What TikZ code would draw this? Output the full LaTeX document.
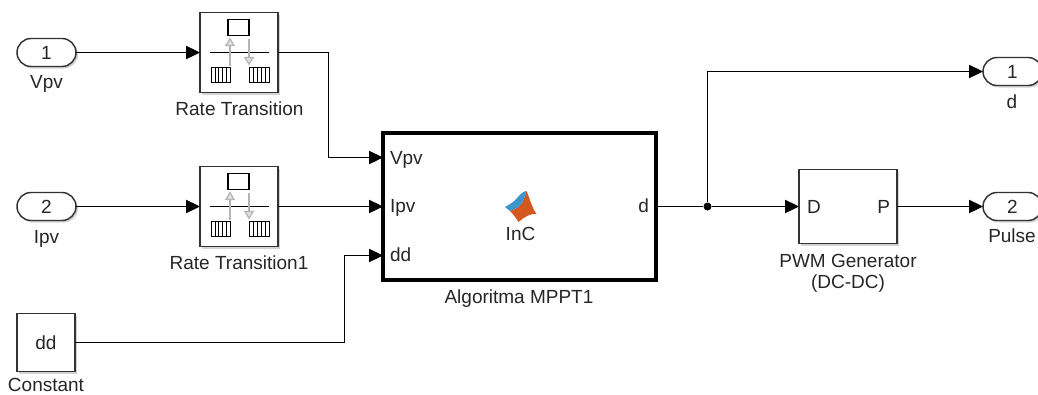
\documentclass[tikz,border=0pt]{standalone}
\usepackage{fontspec}
\setmainfont{Liberation Sans}
\usetikzlibrary{arrows.meta}
\usetikzlibrary{shapes.misc}
\usetikzlibrary{shadows}
\definecolor{tekst}{HTML}{262626}
\definecolor{ikona}{HTML}{B4B4B4}
\definecolor{logoa}{HTML}{D4571F}
\definecolor{logob}{HTML}{3C97CC}
\tikzset{%
    senca/.style={drop shadow={shadow xshift=1.5pt,shadow yshift=-1.5pt,opacity=0.35}},
    block/.style={inner sep=0pt,outer sep=0pt,shape=rectangle,draw=black!80,line width=1.1pt,fill=white,senca},
    port/.style={inner sep=0pt,outer sep=0pt,shape=rounded rectangle,draw=black!80,line width=1.1pt,fill=white,minimum width=44.25pt,minimum height=21pt,text=tekst,font=\fontsize{14.25}{17}\selectfont,senca},
    label/.style={inner sep=0pt,outer sep=0pt,anchor=base,text=tekst,font=\fontsize{14.25}{17}\selectfont},
    signal/.style={-{Triangle[length=10.5pt,width=10pt]},black,line width=0.8pt},
    ratetrans/.pic={
        \draw[line width=0.8pt] (-11,-33) rectangle (10,-17);
        \draw[line width=0.8pt] (-29,0) -- (30,0);
        \draw[ikona,line width=0.9pt,-{Triangle[open,fill=ikona!40,length=6.5pt,width=7.5pt]}] (-9,13) -- (-9,-15);
        \draw[ikona,line width=0.9pt,-{Triangle[open,fill=ikona!40,length=6.5pt,width=7.5pt]}] (10,-14) -- (10,13);
        \draw[line width=0.7pt] (-28,15) rectangle (-9,30);
        \draw[line width=0.7pt] (10,15) rectangle (30,30);
        \foreach \i in {-24,-20.2,-16.4,-12.6,14,18,22,26}
            \draw[line width=0.5pt] (\i,15) -- (\i,30);
    },
}

\begin{document}
\begin{tikzpicture}[x=0.75pt,y=-0.75pt]
    \useasboundingbox (0,0) rectangle (1038,394);

    %vhodi
    \node[port] (in1) at (46.5,52.5) {1};
    \node[label] (in1lab) at (46.5,88) {Vpv};
    \node[port] (in2) at (46.5,206.5) {2};
    \node[label] (in2lab) at (46.5,243) {Ipv};
    \node[block,minimum width=43.5pt,minimum height=43.5pt,text=tekst,font=\fontsize{14.25}{17}\selectfont] (const) at (46,342.5) {dd};
    \node[label] (constlab) at (46,391.5) {Constant};

    %rate transition
    \node[block,minimum width=58.5pt,minimum height=60pt] (rt) at (239,52.5) {};
    \pic at (rt) {ratetrans};
    \node[label] (rtlab) at (239.5,115) {Rate Transition};
    \node[block,minimum width=58.5pt,minimum height=60pt] (rtb) at (239,206.5) {};
    \pic at (rtb) {ratetrans};
    \node[label] (rtblab) at (239,269) {Rate Transition1};

    %algoritma
    \node[block,draw=black,line width=2.5pt,minimum width=204.75pt,minimum height=110.25pt] (mppt) at (519.5,206.5) {};
    \node[label] (mpptlab) at (519,303) {Algoritma MPPT1};
    \node[label,anchor=base west] (pvpv) at (390,164) {Vpv};
    \node[label,anchor=base west] (pipv) at (390,212) {Ipv};
    \node[label,anchor=base west] (pdd) at (390,261) {dd};
    \node[label,anchor=base east] (pd) at (649,212) {d};
    \node[label] (inc) at (520.5,240) {InC};
    \fill[logoa] (526.5,191) .. controls (530,199) and (532,208) .. (536.5,214) .. controls (531,213) and (524,217) .. (518.5,222) .. controls (516,218) and (513,214) .. (510,211) .. controls (516,209) and (520,206) .. (522,203) .. controls (524,199) and (525,195) .. cycle;
    \fill[logob] (505,207) .. controls (510,204) and (514,202) .. (517,198) .. controls (520,195) and (523,191) .. (526.5,191) .. controls (525,195) and (524,199) .. (522,203) .. controls (520,206) and (516,209) .. (510,211) -- cycle;

    %pwm
    \node[block,minimum width=73.5pt,minimum height=55.5pt] (pwm) at (848,206.5) {};
    \node[label,anchor=base west] (pwmd) at (807,213) {D};
    \node[label,anchor=base east] (pwmp) at (890,213) {P};
    \node[label] (pwmlab) at (848,267) {PWM Generator};
    \node[label] (pwmlabb) at (848,288) {(DC-DC)};

    %izhodi
    \node[port] (out1) at (1012.5,71.5) {1};
    \node[label] (out1lab) at (1012,108) {d};
    \node[port] (out2) at (1012.5,206.5) {2};
    \node[label] (out2lab) at (1012,242) {Pulse};

    %vozlisca
    \node[circle,fill=black,inner sep=0pt,minimum size=6pt] (dot) at (707.5,206.5) {};
    \coordinate (vpv) at (383,157.5);
    \coordinate (ipv) at (383,206.5);
    \coordinate (dd) at (383,255.5);
    \coordinate (bendv) at (328.5,157.5);
    \coordinate (bendd) at (344.5,255.5);
    \coordinate (bendo) at (707.5,71.5);

    %povezave
    \draw[signal] (in1.east) -- (rt.west);
    \draw[signal] (in2.east) -- (rtb.west);
    \draw[signal] (rt.east) -| (bendv) -- (vpv);
    \draw[signal] (rtb.east) -- (ipv);
    \draw[signal] (const.east) -| (bendd) -- (dd);
    \draw[black,line width=0.8pt] (mppt.east) -- (dot);
    \draw[signal] (dot) -- (pwm.west);
    \draw[signal] (dot) -- (bendo) -- (out1.west);
    \draw[signal] (pwm.east) -- (out2.west);
\end{tikzpicture}
\end{document}
